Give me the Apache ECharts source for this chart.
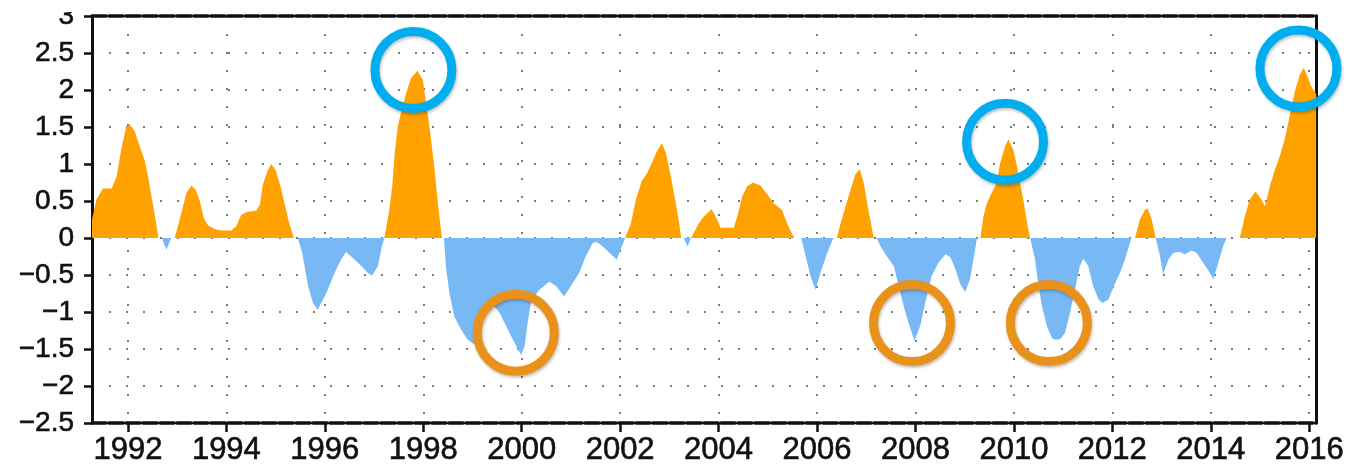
<!DOCTYPE html>
<html>
<head>
<meta charset="utf-8">
<script src="https://cdn.jsdelivr.net/npm/echarts@6/dist/echarts.min.js"></script>
<style>
  html, body { margin: 0; padding: 0; background: #fff; }
  #chart { width: 1347px; height: 467px; }
</style>
</head>
<body>
<div id="chart"></div>
<script>
// index values (turning points, with zero crossings)
var years = [
  1991.27, 1991.36, 1991.49, 1991.67, 1991.77, 1991.87, 1991.96, 1992.03, 1992.14, 1992.24,
  1992.34, 1992.41, 1992.48, 1992.55, 1992.62, 1992.69, 1992.78, 1992.88, 1992.95, 1993.05,
  1993.19, 1993.29, 1993.38, 1993.46, 1993.54, 1993.63, 1993.76, 1993.90, 1994.10, 1994.20,
  1994.30, 1994.41, 1994.61, 1994.68, 1994.74, 1994.83, 1994.91, 1995.00, 1995.10, 1995.18,
  1995.27, 1995.37, 1995.45, 1995.54, 1995.66, 1995.76, 1995.85, 1995.96, 1996.06, 1996.20,
  1996.33, 1996.43, 1996.57, 1996.74, 1996.87, 1996.96, 1997.08, 1997.16, 1997.21, 1997.25,
  1997.31, 1997.37, 1997.42, 1997.48, 1997.56, 1997.65, 1997.75, 1997.88, 1997.99, 1998.08,
  1998.16, 1998.23, 1998.29, 1998.35, 1998.38, 1998.42, 1998.46, 1998.53, 1998.63, 1998.77,
  1998.90, 1999.04, 1999.15, 1999.25, 1999.45, 1999.55, 1999.75, 1999.92, 1999.99, 2000.06,
  2000.12, 2000.19, 2000.36, 2000.56, 2000.70, 2000.86, 2001.00, 2001.17, 2001.30, 2001.44,
  2001.51, 2001.61, 2001.78, 2001.93, 2002.01, 2002.10, 2002.14, 2002.22, 2002.32, 2002.44,
  2002.55, 2002.66, 2002.76, 2002.85, 2002.93, 2003.03, 2003.13, 2003.20, 2003.24, 2003.29,
  2003.37, 2003.44, 2003.48, 2003.60, 2003.70, 2003.86, 2003.97, 2004.04, 2004.31, 2004.38,
  2004.48, 2004.58, 2004.70, 2004.85, 2004.99, 2005.12, 2005.29, 2005.39, 2005.48, 2005.54,
  2005.68, 2005.77, 2005.87, 2005.97, 2006.07, 2006.21, 2006.33, 2006.40, 2006.48, 2006.58,
  2006.68, 2006.78, 2006.87, 2006.95, 2007.03, 2007.12, 2007.15, 2007.21, 2007.29, 2007.42,
  2007.56, 2007.66, 2007.76, 2007.86, 2007.98, 2008.10, 2008.20, 2008.33, 2008.47, 2008.61,
  2008.71, 2008.81, 2008.91, 2009.01, 2009.11, 2009.18, 2009.25, 2009.32, 2009.38, 2009.45,
  2009.55, 2009.65, 2009.72, 2009.82, 2009.89, 2009.99, 2010.09, 2010.19, 2010.28, 2010.33,
  2010.36, 2010.43, 2010.50, 2010.57, 2010.67, 2010.77, 2010.85, 2010.95, 2011.04, 2011.14,
  2011.24, 2011.34, 2011.41, 2011.51, 2011.61, 2011.72, 2011.80, 2011.92, 2012.05, 2012.17,
  2012.26, 2012.39, 2012.46, 2012.56, 2012.66, 2012.72, 2012.80, 2012.88, 2012.91, 2012.97,
  2013.03, 2013.14, 2013.24, 2013.37, 2013.47, 2013.61, 2013.71, 2013.85, 2013.98, 2014.05,
  2014.15, 2014.25, 2014.32, 2014.59, 2014.69, 2014.79, 2014.91, 2015.03, 2015.10, 2015.20,
  2015.30, 2015.40, 2015.50, 2015.60, 2015.70, 2015.81, 2015.89, 2015.98, 2016.04, 2016.14
];
var values = [
  0.25, 0.52, 0.67, 0.67, 0.83, 1.22, 1.49, 1.54, 1.44, 1.24,
  1.05, 0.83, 0.56, 0.29, 0, 0, -0.16, 0, 0, 0.25,
  0.61, 0.71, 0.65, 0.50, 0.27, 0.17, 0.12, 0.10, 0.10, 0.16,
  0.31, 0.35, 0.37, 0.45, 0.72, 0.90, 1.00, 0.92, 0.70, 0.47,
  0.22, 0, 0, -0.20, -0.65, -0.88, -0.97, -0.84, -0.70, -0.47,
  -0.29, -0.19, -0.27, -0.38, -0.47, -0.51, -0.38, -0.11, 0, 0,
  0.38, 0.70, 1.15, 1.50, 1.73, 1.95, 2.16, 2.26, 2.14, 1.73,
  1.33, 0.92, 0.52, 0.16, 0, 0, -0.38, -0.74, -1.06, -1.24,
  -1.37, -1.44, -1.20, -0.95, -0.93, -1.01, -1.28, -1.50, -1.58, -1.46,
  -1.15, -0.85, -0.70, -0.59, -0.65, -0.79, -0.65, -0.47, -0.25, -0.07,
  -0.05, -0.09, -0.20, -0.29, -0.16, 0, 0, 0.20, 0.52, 0.77,
  0.88, 1.04, 1.19, 1.28, 1.15, 0.83, 0.47, 0.20, 0, 0,
  -0.11, 0, 0, 0.20, 0.29, 0.39, 0.25, 0.14, 0.14, 0.29,
  0.56, 0.70, 0.75, 0.71, 0.59, 0.47, 0.38, 0.20, 0.07, 0,
  0, -0.25, -0.52, -0.70, -0.47, -0.20, 0, 0, 0.20, 0.43,
  0.65, 0.86, 0.93, 0.74, 0.43, 0.11, 0, 0, -0.11, -0.25,
  -0.38, -0.65, -0.92, -1.15, -1.39, -1.18, -0.87, -0.51, -0.33, -0.22,
  -0.26, -0.42, -0.62, -0.73, -0.55, -0.28, 0, 0, 0.29, 0.47,
  0.61, 0.74, 1.01, 1.24, 1.33, 1.19, 0.88, 0.52, 0.16, 0,
  0, -0.29, -0.65, -0.92, -1.19, -1.35, -1.38, -1.36, -1.28, -1.01,
  -0.70, -0.38, -0.28, -0.38, -0.65, -0.83, -0.88, -0.83, -0.62, -0.45,
  -0.28, 0, 0, 0.25, 0.38, 0.40, 0.25, 0, 0, -0.25,
  -0.49, -0.29, -0.20, -0.19, -0.22, -0.17, -0.20, -0.34, -0.47, -0.56,
  -0.34, -0.11, 0, 0, 0.29, 0.52, 0.63, 0.52, 0.43, 0.70,
  0.92, 1.10, 1.33, 1.64, 1.96, 2.21, 2.30, 2.16, 2.05, 1.95
];
var yearTicks = [1992, 1994, 1996, 1998, 2000, 2002, 2004, 2006, 2008, 2010, 2012, 2014, 2016];

// highlight rings
var warmRingYears = [1997.80, 2009.82, 2015.78];
var warmRingValues = [2.27, 1.30, 2.29];
var coldRingYears = [1999.88, 2007.93, 2010.71];
var coldRingValues = [-1.28, -1.15, -1.15];

var xMin = 1991.27, xMax = 2016.14;

var pos = [], neg = [];
for (var i = 0; i < years.length; i++) {
    pos.push([years[i], Math.max(values[i], 0)]);
    neg.push([years[i], Math.min(values[i], 0)]);
}
var warmRings = warmRingYears.map(function (y, i) { return [y, warmRingValues[i]]; });
var coldRings = coldRingYears.map(function (y, i) { return [y, coldRingValues[i]]; });

var chart = echarts.init(document.getElementById('chart'));

var fontFam = '"Liberation Sans", Arial, Helvetica, sans-serif';

function ringSeries(data, color) {
    return {
        type: 'scatter',
        data: data,
        symbol: 'circle',
        symbolSize: 77,
        z: 10,
        silent: true,
        itemStyle: {
            opacity: 1,
            color: 'rgba(0,0,0,0)',
            borderColor: color,
            borderWidth: 9,
            shadowBlur: 3,
            shadowOffsetX: 1,
            shadowOffsetY: 2,
            shadowColor: 'rgba(0,0,0,0.25)'
        }
    };
}

chart.setOption({
    animation: false,
    grid: { left: 92, right: 29, top: 16, bottom: 44 },
    xAxis: [{
        type: 'value',
        min: xMin,
        max: xMax,
        position: 'bottom',
        axisLine: { show: true, onZero: false, lineStyle: { color: '#111', width: 3.5, type: [14, 3] } },
        axisTick: { show: true, customValues: yearTicks, length: 9, lineStyle: { color: '#111', width: 2.5 } },
        axisLabel: {
            customValues: yearTicks,
            margin: 12,
            fontSize: 31,
            color: '#111',
            textBorderColor: '#111',
            textBorderWidth: 0.6,
            fontFamily: fontFam,
            formatter: function (v) { return String(Math.round(v)); }
        },
        splitLine: { show: true, lineStyle: { color: '#7a7a7a', width: 2, type: [2, 16] } }
    }, {
        type: 'value',
        min: xMin,
        max: xMax,
        position: 'top',
        axisLine: { show: true, onZero: false, lineStyle: { color: '#111', width: 3.5, type: [14, 3] } },
        axisTick: { show: false },
        axisLabel: { show: false },
        splitLine: { show: false }
    }],
    yAxis: [{
        type: 'value',
        min: -2.5,
        max: 3,
        interval: 0.5,
        axisLine: { show: true, onZero: false, lineStyle: { color: '#111', width: 3 } },
        axisTick: { show: true, length: 8, lineStyle: { color: '#111', width: 2.5 } },
        axisLabel: {
            margin: 18,
            fontSize: 28,
            color: '#111',
            textBorderColor: '#111',
            textBorderWidth: 0.6,
            fontFamily: fontFam,
            formatter: function (v) { return (v < 0 ? '\u2212' : '') + Math.abs(v); }
        },
        splitLine: { show: true, lineStyle: { color: '#7a7a7a', width: 2, type: [2, 15] } }
    }, {
        type: 'value',
        min: -2.5,
        max: 3,
        interval: 0.5,
        position: 'right',
        axisLine: { show: true, onZero: false, lineStyle: { color: '#111', width: 3 } },
        axisTick: { show: false },
        axisLabel: { show: false },
        splitLine: { show: false }
    }],
    series: [{
        name: 'positive',
        type: 'line',
        data: pos,
        showSymbol: false,
        lineStyle: { width: 0 },
        areaStyle: { color: '#FFA200', opacity: 1 },
        z: 3,
        silent: true
    }, {
        name: 'negative',
        type: 'line',
        data: neg,
        showSymbol: false,
        lineStyle: { width: 0 },
        areaStyle: { color: '#78B8F5', opacity: 1 },
        z: 3,
        silent: true
    },
    ringSeries(warmRings, '#00AEEF'),
    ringSeries(coldRings, '#E8921C')
    ],
    graphic: [{
        type: 'rect',
        left: 0, top: 0,
        shape: { width: 88, height: 12 },
        style: { fill: '#fff' },
        z: 100
    }]
});
</script>
</body>
</html>
